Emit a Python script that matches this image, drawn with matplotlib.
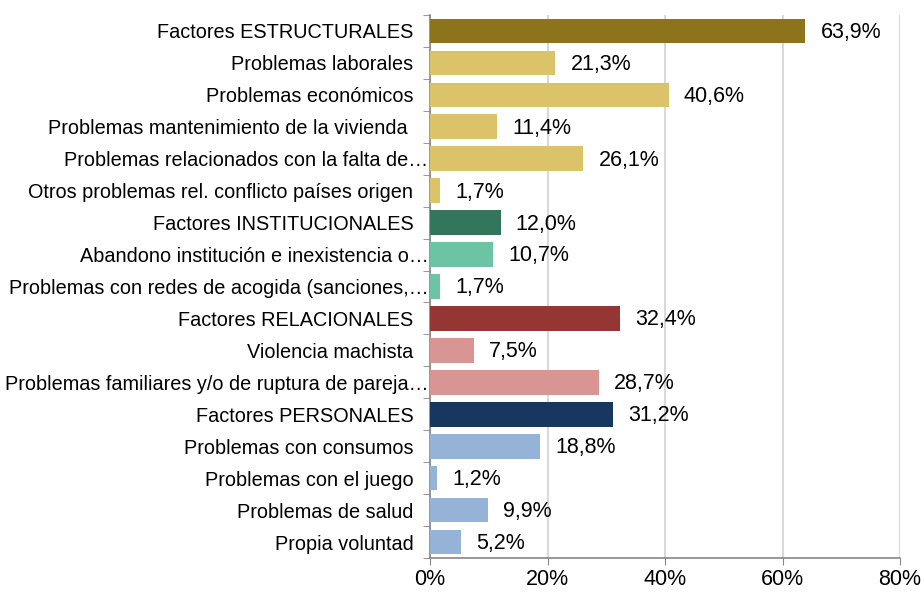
import numpy as np
import matplotlib.pyplot as plt
from matplotlib.transforms import ScaledTranslation

plt.rcParams['font.family'] = ['Liberation Sans', 'DejaVu Sans']

labels = ['Factores ESTRUCTURALES', 'Problemas laborales', 'Problemas económicos',
          'Problemas mantenimiento de la vivienda ', 'Problemas relacionados con la falta de…',
          'Otros problemas rel. conflicto países origen', 'Factores INSTITUCIONALES',
          'Abandono institución e inexistencia o…', 'Problemas con redes de acogida (sanciones,…',
          'Factores RELACIONALES', 'Violencia machista',
          'Problemas familiares y/o de ruptura de pareja…', 'Factores PERSONALES',
          'Problemas con consumos', 'Problemas con el juego', 'Problemas de salud',
          'Propia voluntad']
values = [63.9, 21.3, 40.6, 11.4, 26.1, 1.7, 12.0, 10.7, 1.7, 32.4, 7.5, 28.7,
          31.2, 18.8, 1.2, 9.9, 5.2]
groups = ['E', 'e', 'e', 'e', 'e', 'e', 'I', 'i', 'i', 'R', 'r', 'r', 'P', 'p', 'p', 'p', 'p']
palette = {'E': '#8C731C', 'e': '#DBC36A', 'I': '#33765C', 'i': '#6CC4A4',
           'R': '#943634', 'r': '#D99594', 'P': '#17375E', 'p': '#95B3D7'}

fig = plt.figure(figsize=(9.24, 5.94), dpi=100)
ax = fig.add_axes([430/924, 1-558/594, 470/924, 543/594])

y = np.arange(len(values))
ax.barh(y, values, height=0.77, color=[palette[g] for g in groups], zorder=3)
ax.set_ylim(len(values) - 0.5, -0.5)
ax.set_xlim(0, 80)

for yi, v in zip(y, values):
    ax.annotate(f'{v:.1f}%'.replace('.', ','), (v, yi), xytext=(11, -1),
                textcoords='offset points', va='center', ha='left', fontsize=15.5)

ax.set_xticks([0, 20, 40, 60, 80])
ax.set_xticklabels(['0%', '20%', '40%', '60%', '80%'], fontsize=15.5)
ax.set_yticks(y)
ax.set_yticklabels(labels, fontsize=14.3)
ax.tick_params(axis='y', length=0, pad=12)
ax.set_yticks(np.arange(len(values) + 1) - 0.5, minor=True)
ax.tick_params(axis='y', which='minor', length=5, color='#868686')
ax.tick_params(axis='x', length=5, color='#868686', pad=3)

for lab in ax.get_yticklabels():
    if lab.get_text().endswith('…'):
        lab.set_transform(lab.get_transform() + ScaledTranslation(15/100, 0, fig.dpi_scale_trans))

ax.grid(axis='x', color='#D9D9D9', linewidth=1.5, zorder=0)
for s in ['top', 'right']:
    ax.spines[s].set_visible(False)
for s in ['left', 'bottom']:
    ax.spines[s].set_color('#868686')
    ax.spines[s].set_linewidth(1.2)

fig.savefig('out.png', dpi=100)
